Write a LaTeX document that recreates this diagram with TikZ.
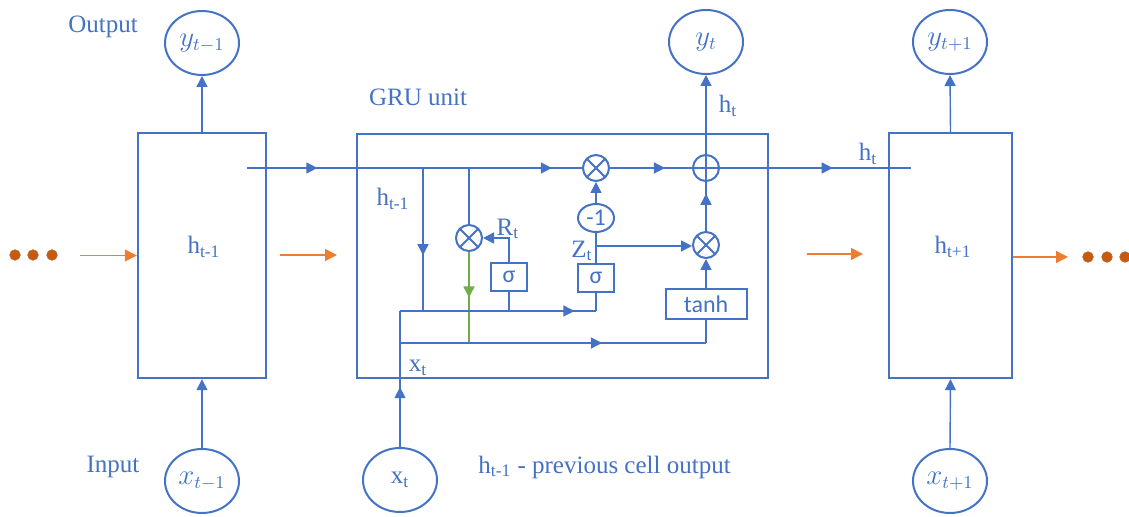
\documentclass[tikz,border=0pt]{standalone}
\usepackage{fontspec}
\setmainfont{Liberation Serif}
\newfontfamily\calib{Carlito}
\usetikzlibrary{arrows.meta,shapes.geometric,decorations.markings}
\definecolor{gblue}{HTML}{4472C4}
\definecolor{gorange}{HTML}{ED7D31}
\definecolor{gdot}{HTML}{C55A11}
\definecolor{ggreen}{HTML}{70AD47}
\newcommand\lowsub[1]{\textsubscript{#1}}
\begin{document}
\begin{tikzpicture}[x=0.5pt,y=-0.5pt,
  every node/.style={text=gblue},
  txt/.style={font=\fontsize{12.5}{15}\selectfont, inner sep=0pt},
  cellbox/.style={draw=gblue,line width=1.2pt,inner sep=0pt,font=\fontsize{12.5}{15}\selectfont},
  io/.style={ellipse,draw=gblue,line width=1pt,minimum width=37pt,minimum height=32pt,inner sep=0pt,font=\fontsize{13.5}{15}\selectfont},
  op/.style={circle,draw=gblue,line width=1pt,minimum size=13pt,inner sep=0pt},
  otimes/.style={op,path picture={\draw[gblue,line width=1pt]
      ([shift={(45:7pt)}]path picture bounding box.center) -- ([shift={(225:7pt)}]path picture bounding box.center)
      ([shift={(135:7pt)}]path picture bounding box.center) -- ([shift={(315:7pt)}]path picture bounding box.center);}},
  gate/.style={draw=gblue,line width=1pt,inner sep=0pt,font=\calib\fontsize{12}{14}\selectfont},
  wire/.style={draw=gblue,line width=0.7pt},
  tip/.style={-{Triangle[length=5.5pt,width=5.5pt]}},
  marr/.style={postaction={decorate,decoration={markings,mark=at position #1 with {\arrow{Triangle[length=5.5pt,width=5.5pt]}}}}},
  oarrow/.style={draw=gorange,line width=0.7pt,-{Triangle[length=6pt,width=6pt]}},
  dot/.style={circle,fill=gdot,draw=gorange!80!black,line width=0.3pt,minimum size=5.3pt,inner sep=0pt}
  ]
\useasboundingbox (0,0) rectangle (1129,517);

% cells
\node[cellbox,minimum width=64pt,minimum height=122.5pt] (L) at (202,255.5) {};
\node[cellbox,minimum width=205.5pt,minimum height=122pt] (G) at (562.5,256) {};
\node[cellbox,minimum width=61.5pt,minimum height=122.5pt] (R) at (950.5,255.5) {};
\node[txt] (Llab) at (204,247) {h\lowsub{t-1}};
\node[txt] (Rlab) at (953,247) {h\lowsub{t+1}};

% outputs / inputs
\node[io] (ytm1) at (202,43) {$y_{t-1}$};
\node[io] (yt) at (706,42) {$y_{t}$};
\node[io] (ytp1) at (950,42) {$y_{t+1}$};
\node[io] (xtm1) at (202,481) {$x_{t-1}$};
\node[io,font=\fontsize{12.5}{15}\selectfont] (xt) at (400,480) {x\lowsub{t}};
\node[io] (xtp1) at (950,481) {$x_{t+1}$};

% labels
\node[txt] (lOut) at (103,27) {Output};
\node[txt] (lIn) at (113,467) {Input};
\node[txt] (lGRU) at (418,97) {GRU unit};
\node[txt] (lhin) at (393,199) {h\lowsub{t-1}};
\node[txt] (lR) at (508,229) {R\lowsub{t}};
\node[txt] (lZ) at (582,251) {Z\lowsub{t}};
\node[txt] (lx) at (418,368) {x\lowsub{t}};
\node[txt] (lht1) at (728,106) {h\lowsub{t}};
\node[txt] (lht2) at (868,154) {h\lowsub{t}};
\node[txt,anchor=west] (lprev) at (478,467) {h\lowsub{t-1} - previous cell output};

% operators
\node[otimes] (mulA) at (596,168) {};
\node[op] (padd) at (706,168) {};
\node[otimes] (mulR) at (469,238) {};
\node[otimes] (mulZ) at (706,245) {};
\node[ellipse,draw=gblue,line width=1pt,minimum width=18pt,minimum height=14pt,inner sep=0pt,font=\calib\fontsize{12}{14}\selectfont] (neg) at (596,218) {-1};
\node[gate,minimum width=18pt,minimum height=14pt] (sig1) at (509,277) {σ};
\node[gate,minimum width=18pt,minimum height=14pt] (sig2) at (596,278) {σ};
\node[gate,minimum width=40.5pt,minimum height=15pt] (tanh) at (706,304) {tanh};

% coordinates
\coordinate (hs) at (247,168);
\coordinate (he) at (911,168);
\coordinate (j1) at (423,168);
\coordinate (j1b) at (423,311);
\coordinate (j2) at (469,168);
\coordinate (g1) at (469,343);
\coordinate (s1b) at (509,311);
\coordinate (xa) at (400,311);
\coordinate (c1) at (596,311);
\coordinate (xb) at (400,343);
\coordinate (c2) at (706,343);
\coordinate (zj) at (596,246);

% main line
\draw[wire,marr=0.21,marr=0.91] (hs) -- (mulA);
\draw[wire,marr=0.67] (mulA) -- (padd);
\draw[wire,marr=0.59] (padd) -- (he);
% internal
\draw[wire,marr=0.61] (j1) -- (j1b);
\draw[wire] (j2) -- (mulR);
\draw[wire,draw=ggreen,marr=0.5] (mulR) -- (g1);
\draw[wire] (s1b) -- (sig1);
\draw[wire,tip] (sig1.north) |- (mulR);
\draw[wire,marr=0.89] (xa) -- (c1);
\draw[wire] (c1) -- (sig2);
\draw[wire,marr=0.66] (xb) -- (c2);
\draw[wire] (c2) -- (tanh);
\draw[wire,marr=0.44] (xt) -- (xa);
\draw[wire] (sig2) -- (neg);
\draw[wire,tip] (neg) -- (mulA);
\draw[wire,tip] (zj) -- (zj -| mulZ.west);
\draw[wire,tip] (tanh) -- (mulZ);
\draw[wire,marr=0.76] (mulZ) -- (padd);
\draw[wire,tip] (padd) -- (yt);
% plus sign
\draw[gblue,line width=1pt] (padd.west) -- (padd.east) (padd.north) -- (padd.south);
% outer
\draw[wire,tip] (L.north) -- (ytm1.south);
\draw[wire,tip] (R.north) -- (ytp1.south);
\draw[wire,tip] (xtm1.north) -- (L.south);
\draw[wire,tip] (xtp1.north) -- (R.south);

% orange
\node[dot] (d1) at (15,255) {};
\node[dot] (d2) at (33,255) {};
\node[dot] (d3) at (52,255) {};
\node[dot] (d4) at (1088,257) {};
\node[dot] (d5) at (1107,257) {};
\node[dot] (d6) at (1125,257) {};
\coordinate (o1) at (80,255.5);
\coordinate (o2) at (280,255);
\coordinate (o3) at (337,255);
\coordinate (o4) at (807,254);
\coordinate (o5) at (863,254);
\coordinate (o6) at (1068,257);
\draw[oarrow] (o1) -- (o1 -| L.west);
\draw[oarrow] (o2) -- (o3);
\draw[oarrow] (o4) -- (o5);
\draw[oarrow] (R.east |- o6) -- (o6);
\end{tikzpicture}
\end{document}
